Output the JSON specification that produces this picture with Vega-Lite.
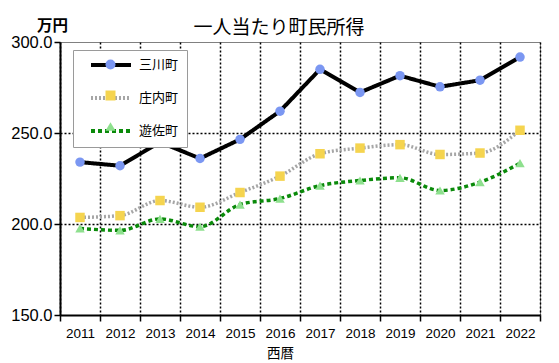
{
  "$schema": "https://vega.github.io/schema/vega-lite/v6.json",
  "autosize": "none",
  "width": 480,
  "height": 273,
  "padding": {"left": 60, "top": 42, "right": 19, "bottom": 48},
  "background": "white",
  "config": {
    "view": {"stroke": "#808080", "strokeWidth": 1},
    "font": "Noto Sans CJK JP"
  },
  "title": {
    "text": "一人当たり町民所得",
    "font": "Noto Sans CJK JP",
    "fontSize": 19,
    "fontWeight": "normal",
    "color": "black",
    "anchor": "middle",
    "dx": -21,
    "offset": -20
  },
  "data": {
    "values": [
      {"year": "2011", "town": "三川町", "v": 234},
      {"year": "2012", "town": "三川町", "v": 232},
      {"year": "2013", "town": "三川町", "v": 245},
      {"year": "2014", "town": "三川町", "v": 236},
      {"year": "2015", "town": "三川町", "v": 246.5},
      {"year": "2016", "town": "三川町", "v": 262},
      {"year": "2017", "town": "三川町", "v": 285},
      {"year": "2018", "town": "三川町", "v": 272.3},
      {"year": "2019", "town": "三川町", "v": 281.5},
      {"year": "2020", "town": "三川町", "v": 275.4},
      {"year": "2021", "town": "三川町", "v": 279},
      {"year": "2022", "town": "三川町", "v": 291.7},
      {"year": "2011", "town": "庄内町", "v": 203.6},
      {"year": "2012", "town": "庄内町", "v": 204.6},
      {"year": "2013", "town": "庄内町", "v": 212.9},
      {"year": "2014", "town": "庄内町", "v": 209.2},
      {"year": "2015", "town": "庄内町", "v": 217.3},
      {"year": "2016", "town": "庄内町", "v": 226.3},
      {"year": "2017", "town": "庄内町", "v": 238.6},
      {"year": "2018", "town": "庄内町", "v": 241.7},
      {"year": "2019", "town": "庄内町", "v": 243.6},
      {"year": "2020", "town": "庄内町", "v": 238.2},
      {"year": "2021", "town": "庄内町", "v": 239},
      {"year": "2022", "town": "庄内町", "v": 251.5},
      {"year": "2011", "town": "遊佐町", "v": 197.6},
      {"year": "2012", "town": "遊佐町", "v": 196.5},
      {"year": "2013", "town": "遊佐町", "v": 202.8},
      {"year": "2014", "town": "遊佐町", "v": 198.5},
      {"year": "2015", "town": "遊佐町", "v": 210.7},
      {"year": "2016", "town": "遊佐町", "v": 214},
      {"year": "2017", "town": "遊佐町", "v": 221.1},
      {"year": "2018", "town": "遊佐町", "v": 223.9},
      {"year": "2019", "town": "遊佐町", "v": 225.4},
      {"year": "2020", "town": "遊佐町", "v": 218.4},
      {"year": "2021", "town": "遊佐町", "v": 223},
      {"year": "2022", "town": "遊佐町", "v": 233.4}
    ]
  },
  "encoding": {
    "x": {
      "field": "year",
      "type": "ordinal",
      "scale": {"type": "band", "paddingInner": 0, "paddingOuter": 0},
      "axis": {
        "title": "西暦",
        "titleFont": "Noto Sans CJK JP",
        "titleFontSize": 13.5,
        "titleFontWeight": "normal",
        "titleColor": "black",
        "titleX": 220,
        "titleY": 42,
        "titleAnchor": null,
        "titleAlign": "center",
        "titleBaseline": "alphabetic",
        "labelAngle": 0,
        "labelFont": "Liberation Sans",
        "labelFontSize": 13.5,
        "labelColor": "black",
        "labelPadding": 5,
        "tickBand": "extent",
        "tickColor": "black",
        "tickSize": 6,
        "tickWidth": 1.5,
        "domainColor": "black",
        "domainWidth": 2,
        "grid": true,
        "gridColor": "black",
        "gridDash": [2, 2],
        "gridWidth": 1.5
      }
    },
    "y": {
      "field": "v",
      "type": "quantitative",
      "scale": {"domain": [150, 300], "nice": false, "zero": false},
      "axis": {
        "values": [150, 200, 250, 300],
        "format": ".1f",
        "title": "万円",
        "titleFont": "Noto Sans CJK JP",
        "titleFontSize": 15.5,
        "titleFontWeight": "bold",
        "titleColor": "black",
        "titleAngle": 0,
        "titleX": -8,
        "titleY": -12,
        "titleAlign": "center",
        "titleBaseline": "alphabetic",
        "labelFont": "Liberation Sans",
        "labelFontSize": 16.5,
        "labelColor": "black",
        "labelPadding": 2,
        "tickColor": "black",
        "tickSize": 6,
        "tickWidth": 1.5,
        "domainColor": "black",
        "domainWidth": 2,
        "grid": true,
        "gridColor": "black",
        "gridDash": [2, 2],
        "gridWidth": 1.5,
        "gridOpacity": {"condition": {"test": "datum.value == 150 || datum.value == 300", "value": 0}, "value": 1}
      }
    }
  },
  "layer": [
    {
      "transform": [{"filter": "datum.town == '三川町'"}],
      "mark": {"type": "line", "strokeWidth": 4, "interpolate": "linear"},
      "encoding": {
        "stroke": {"field": "town", "type": "nominal",
          "scale": {"domain": ["三川町", "庄内町", "遊佐町"], "range": ["#000000", "#a6a6a6", "#0a8a0a"]},
          "legend": {
            "orient": "none", "legendX": 13, "legendY": 8, "title": null,
            "zindex": 1,
            "fillColor": "white", "strokeColor": "#9a9a9a", "padding": 8,
            "symbolType": "M-4,0H4", "symbolSize": 100, "symbolStrokeWidth": 4,
            "symbolOffset": 23, "labelOffset": 21,
            "rowPadding": 17,
            "labelFont": "Noto Sans CJK JP", "labelFontSize": 13, "labelColor": "black",
            "labelExpr": "datum.label + '\u3000\u3000 '"
          }},
        "strokeDash": {"field": "town", "type": "nominal",
          "scale": {"domain": ["三川町", "庄内町", "遊佐町"], "range": [[1, 0], [2, 2], [4, 3]]},
          "legend": {"orient": "none", "legendX": 13, "legendY": 8, "title": null}}
      }
    },
    {
      "transform": [{"filter": "datum.town != '三川町'"}],
      "mark": {"type": "line", "strokeWidth": 3.5, "interpolate": "monotone"},
      "encoding": {
        "stroke": {"field": "town", "type": "nominal"},
        "strokeDash": {"field": "town", "type": "nominal"}
      }
    },
    {
      "mark": {"type": "point", "filled": true, "opacity": 1, "size": 90},
      "encoding": {
        "fill": {"field": "town", "type": "nominal",
          "scale": {"range": ["#7b97f2", "#f5d44f", "#8ee08e"]},
          "legend": {
            "orient": "none", "legendX": 13, "legendY": 8, "title": null,
            "zindex": 2, "padding": 8,
            "symbolSize": 100, "symbolOffset": 23, "symbolStrokeWidth": 0,
            "labelOffset": 21, "rowPadding": 17,
            "labelFont": "Noto Sans CJK JP", "labelFontSize": 13, "labelOpacity": 0,
            "labelExpr": "''"
          }},
        "shape": {"field": "town", "type": "nominal",
          "scale": {"range": ["circle", "square", "triangle-up"]},
          "legend": {"orient": "none", "legendX": 13, "legendY": 8, "title": null}}
      }
    }
  ]
}
